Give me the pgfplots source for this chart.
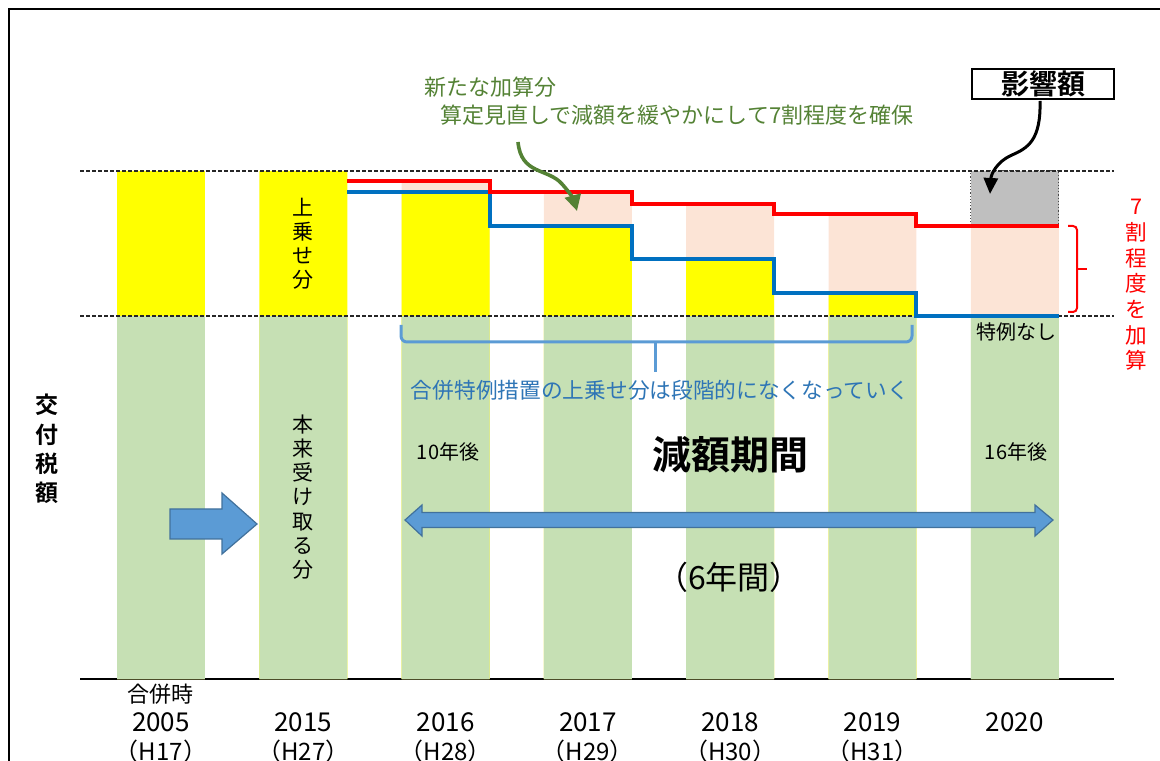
\documentclass[border=0pt]{standalone}
\usepackage{pgfplots}
\pgfplotsset{compat=1.18}
\usepackage{fontspec}
\setmainfont{Noto Sans CJK JP}[BoldFont={Noto Sans CJK JP Bold}]
\usetikzlibrary{arrows.meta}
\definecolor{basegreen}{RGB}{198,224,180}
\definecolor{addyellow}{RGB}{255,255,0}
\definecolor{peach}{RGB}{252,228,214}
\definecolor{impactgray}{RGB}{191,191,191}
\definecolor{lineblue}{RGB}{0,112,192}
\definecolor{arrowblue}{RGB}{91,155,213}
\definecolor{arrowedge}{RGB}{65,113,156}
\definecolor{textblue}{RGB}{46,117,182}
\definecolor{notegreen}{RGB}{84,130,53}
\newcommand{\yr}[1]{{\fontsize{13}{14.5}\selectfont #1}}
\newcommand{\hh}[1]{{\fontsize{12}{14.5}\selectfont #1}}

\begin{document}
\begin{tikzpicture}
\begin{axis}[
  at={(40pt,40.5pt)}, anchor=south west,
  scale only axis, width=517pt, height=326.7pt,
  xmin=-0.569, xmax=6.697, ymin=0, ymax=180,
  axis x line=bottom, axis y line=none,
  axis line style={-, line width=1pt},
  xtick={0,...,6}, major tick length=0pt,
  xticklabels={
    {合併時\\\yr{2005}\\\hh{（H17）}},
    {\vphantom{合併時}\\\yr{2015}\\\hh{（H27）}},
    {\vphantom{合併時}\\\yr{2016}\\\hh{（H28）}},
    {\vphantom{合併時}\\\yr{2017}\\\hh{（H29）}},
    {\vphantom{合併時}\\\yr{2018}\\\hh{（H30）}},
    {\vphantom{合併時}\\\yr{2019}\\\hh{（H31）}},
    {\vphantom{合併時}\\\yr{2020}}},
  xticklabel style={align=center, font=\fontsize{11}{14.5}\selectfont,
    anchor=north, inner sep=0pt, yshift=-2.3pt},
  clip=false,
]
% impact (gray) bar, later covered below 124.9
\addplot[ybar, bar shift=0, bar width=0.618, fill=impactgray, draw=none]
  coordinates {(6,140)};
% red level = with new addition (peach)
\addplot[ybar, bar shift=0, bar width=0.618, fill=peach, draw=none]
  coordinates {(0,0)(1,0)(2,137.3)(3,134.2)(4,130.9)(5,128.0)(6,124.9)};
% merger special measure (yellow)
\addplot[ybar, bar shift=0, bar width=0.618, fill=addyellow, draw=none]
  coordinates {(0,140)(1,140)(2,134.2)(3,124.9)(4,115.6)(5,106.3)(6,0)};
% base amount (green)
\addplot[ybar, bar shift=0, bar width=0.618, fill=basegreen, draw=none]
  coordinates {(0,100)(1,100)(2,100)(3,100)(4,100)(5,100)(6,100)};
% dotted outline of impact box
\addplot[black!70, densely dotted, line width=0.6pt, mark=none]
  coordinates {(5.691,124.9)(5.691,140)(6.309,140)(6.309,124.9)};
% reference dashed lines
\addplot[black!85, dash pattern=on 2pt off 1pt, line width=0.8pt, mark=none]
  coordinates {(-0.569,140)(6.697,140)};
\addplot[black!85, dash pattern=on 2pt off 1pt, line width=0.8pt, mark=none]
  coordinates {(-0.569,100)(6.697,100)};
% step lines
\addplot[const plot, lineblue, line width=2pt, mark=none]
  coordinates {(1.309,134.2)(2.309,124.9)(3.309,115.6)(4.309,106.3)(5.309,100)(6.309,100)};
\addplot[const plot, red, line width=2pt, mark=none]
  coordinates {(1.309,137.3)(2.309,134.2)(3.309,130.9)(4.309,128.0)(5.309,124.9)(6.309,124.9)};
\end{axis}

% annotations in image pixel units (origin top-left)
\begin{scope}[x=0.5pt, y=-0.5pt, shift={(0,380pt)}]
  % outer frame
  \draw[line width=1.4pt] (9,800) -- (9,9) -- (1300,9);

  % green note + arrow
  \node[anchor=west, inner sep=0pt, text=notegreen, font=\fontsize{11}{13}\selectfont] at (424,87) {新たな加算分};
  \node[anchor=west, inner sep=0pt, text=notegreen, font=\fontsize{11}{13}\selectfont] at (440,115) {算定見直しで減額を緩やかにして7割程度を確保};
  \draw[notegreen, line width=1.8pt, -{Triangle[length=8pt,width=8pt]}]
    (518,142) .. controls (521,175) and (548,168) .. (562,184) .. controls (570,193) and (574,200) .. (577,211);

  % impact box + arrow
  \node[draw, line width=1pt, minimum width=71pt, minimum height=15pt, inner sep=0pt,
        font=\bfseries\fontsize{14}{16}\selectfont] at (1043,84) {影響額};
  \draw[black, line width=1.5pt, -{Triangle[length=8pt,width=7pt]}]
    (1040,101) .. controls (1041,140) and (1028,148) .. (1012,155) .. controls (996,162) and (991,175) .. (990,194);

  % red brace and vertical text
  \draw[red, line width=1pt, rounded corners=2pt] (1068,226) -- (1077,226) -- (1077,312) -- (1068,312);
  \draw[red, line width=1pt] (1077,269) -- (1087,269);
  \node[text=red, align=center, inner sep=0pt, font=\fontsize{10.8}{12.85}\selectfont] at (1136,285) {7\\割\\程\\度\\を\\加\\算};

  \node[font=\fontsize{10}{12}\selectfont] at (1016,332) {特例なし};

  % blue brace and text
  \draw[arrowblue, line width=1.5pt, rounded corners=3pt] (401,325) -- (401,342) -- (912,342) -- (912,325);
  \draw[arrowblue, line width=1.5pt] (655,342) -- (655,372);
  \node[text=textblue, font=\fontsize{10.85}{13}\selectfont] at (660,390) {合併特例措置の上乗せ分は段階的になくなっていく};

  % vertical labels in bars
  \node[align=center, inner sep=0pt, font=\fontsize{10.5}{12}\selectfont] at (303,244) {上\\乗\\せ\\分};
  \node[align=center, inner sep=0pt, font=\fontsize{10.5}{12.1}\selectfont] at (303,497) {本\\来\\受\\け\\取\\る\\分};
  \node[align=center, inner sep=0pt, font=\bfseries\fontsize{11.5}{14.7}\selectfont] at (47,449) {交\\付\\税\\額};

  \node[font=\fontsize{10}{12}\selectfont] at (448,452) {10年後};
  \node[font=\fontsize{10}{12}\selectfont] at (1016,452) {16年後};
  \node[font=\bfseries\fontsize{19.5}{22}\selectfont] at (730,455) {減額期間};
  \node[font=\fontsize{16}{18}\selectfont] at (729,577) {（6年間）};

  % block arrows
  \draw[fill=arrowblue, draw=arrowedge, line width=0.6pt]
    (170,509) -- (222,509) -- (222,493) -- (257,524) -- (222,554) -- (222,539) -- (170,539) -- cycle;
  \draw[fill=arrowblue, draw=arrowedge, line width=0.6pt]
    (405,520) -- (422,505) -- (422,512.5) -- (1035,512.5) -- (1035,505) -- (1053,520)
    -- (1035,536) -- (1035,527.5) -- (422,527.5) -- (422,536) -- cycle;
\end{scope}
\pgfresetboundingbox
\useasboundingbox (0,0) rectangle (580pt,380pt);
\end{tikzpicture}
\end{document}
